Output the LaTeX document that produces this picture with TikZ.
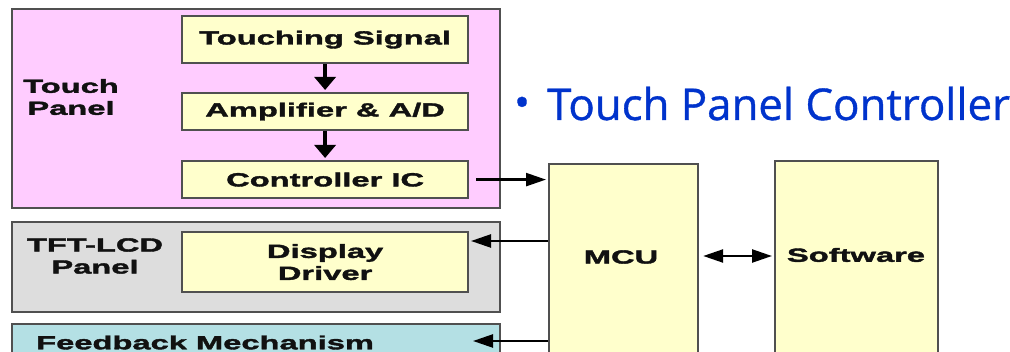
\documentclass[tikz,border=0pt]{standalone}
\usepackage{fontspec}
\usetikzlibrary{arrows.meta,calc}
\newfontfamily\boxfont[FakeStretch=1.72,FakeBold=2,BoldFont={* Bold}]{Liberation Sans}
\newfontfamily\titlefont[FakeBold=0.8]{Open Sans}
\definecolor{pinkfill}{RGB}{255,204,255}
\definecolor{yellowfill}{RGB}{255,255,204}
\definecolor{grayfill}{RGB}{221,221,221}
\definecolor{cyanfill}{RGB}{180,224,228}
\definecolor{borderc}{RGB}{80,80,80}
\definecolor{textc}{RGB}{17,17,17}
\definecolor{titleblue}{RGB}{0,51,204}
\begin{document}
\begin{tikzpicture}[x=1pt,y=-1pt,
  box/.style={draw=borderc,line width=2.2pt,rectangle,anchor=north west,inner sep=0pt},
  lbl/.style={text=textc,font=\boxfont\bfseries\fontsize{19}{22}\selectfont,align=center,inner sep=0pt},
  harr/.style={draw=black,line width=2.4pt,-{Triangle[length=20pt,width=13pt]}},
  varr/.style={draw=black,line width=3.6pt,-{Triangle[length=13pt,width=21pt]}},
  harrb/.style={draw=black,line width=2.4pt,{Triangle[length=20pt,width=13pt]}-{Triangle[length=20pt,width=13pt]}}]
\clip (0,0) rectangle (1010,352);
\fill[white] (0,0) rectangle (1010,352);
% panels
\node[box,fill=pinkfill,minimum width=488pt,minimum height=199pt] (tp) at (11,8) {};
\node[box,fill=grayfill,minimum width=488pt,minimum height=90pt] (tft) at (11,221) {};
\node[box,fill=cyanfill,minimum width=488pt,minimum height=50pt] (fb) at (11,323) {};
% inner boxes
\node[box,fill=yellowfill,minimum width=286pt,minimum height=47pt] (ts) at (181,15) {};
\node[box,fill=yellowfill,minimum width=286pt,minimum height=37pt] (amp) at (181,92) {};
\node[box,fill=yellowfill,minimum width=286pt,minimum height=37pt] (cic) at (181,160) {};
\node[box,fill=yellowfill,minimum width=286pt,minimum height=60pt] (dd) at (181,231) {};
\node[box,fill=yellowfill,minimum width=149pt,minimum height=220pt] (mcu) at (548,163) {};
\node[box,fill=yellowfill,minimum width=163pt,minimum height=220pt] (sw) at (774,160) {};
% labels
\node[lbl] (tsl) at (ts.center) {Touching Signal};
\node[lbl] (ampl) at (amp.center) {Amplifier \& A/D};
\node[lbl] (cicl) at (cic.center) {Controller IC};
\node[lbl] (ddl) at (dd.center) {Display\\Driver};
\node[lbl] (tpl) at (71,97) {Touch\\Panel};
\node[lbl] (tftl) at (95,256) {TFT-LCD\\Panel};
\node[lbl,anchor=west] (fbl) at (36,342.5) {Feedback Mechanism};
\node[lbl] (mcul) at (621,257) {MCU};
\node[lbl] (swl) at (856,255) {Software};
% title
\node[anchor=base west,inner sep=0pt,text=titleblue,font=\titlefont\fontsize{43.8}{50}\selectfont] (title) at (547,120) {Touch Panel Controller};
\node[inner sep=0pt,text=titleblue,font=\titlefont\fontsize{42}{44}\selectfont] (bullet) at (522,107) {•};
% arrows
\draw[varr] (ts.south) -- ($(amp.north)+(0,-2)$);
\draw[varr] (amp.south) -- ($(cic.north)+(0,-2)$);
\draw[harr] ($(cic.east)+(7,0)$) -- ($(cic.east -| mcu.west)+(-2,0)$);
\coordinate (ddin) at (471,241);
\coordinate (fbin) at (473,341);
\coordinate (swin) at (772,256);
\draw[harr] (mcu.west |- ddin) -- (ddin);
\draw[harr] (mcu.west |- fbin) -- (fbin);
\draw[harrb] ($(mcu.east |- swin)+(4,0)$) -- (swin);
\end{tikzpicture}
\end{document}
